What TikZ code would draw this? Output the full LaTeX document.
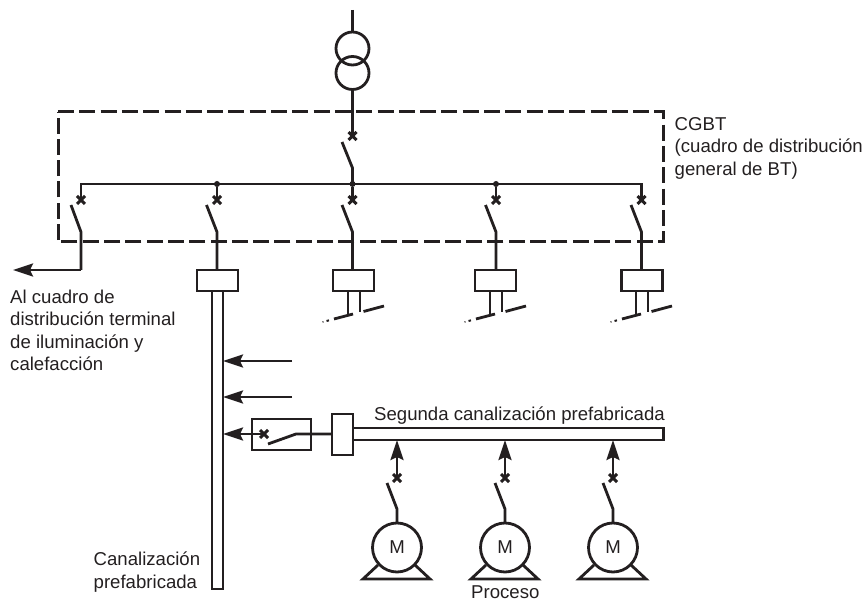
\documentclass[tikz,border=0pt]{standalone}
\usepackage{fontspec}
\setmainfont{Liberation Sans}
\usepackage{xcolor}
\usetikzlibrary{shapes.misc, shapes.geometric, arrows.meta, positioning}
\definecolor{inkcolor}{RGB}{35, 31, 32}
\tikzstyle{wire} = [line width=2.8pt, draw=inkcolor, line join=miter]
\tikzstyle{arrow} = [wire, -{Stealth[length=20pt, width=13pt, inset=3pt]}]
\tikzstyle{panel} = [line width=3pt, draw=inkcolor, dash pattern=on 16pt off 5.3pt]
\tikzstyle{breaker} = [cross out, draw=inkcolor, line width=3pt, minimum size=8pt, inner sep=0pt, outer sep=0pt]
\tikzstyle{junction} = [circle, fill=inkcolor, minimum size=6pt, inner sep=0pt]
\tikzstyle{tapbox} = [rectangle, draw=inkcolor, line width=2.8pt, fill=white, minimum width=41pt, minimum height=21pt, inner sep=0pt, outer sep=0pt]
\tikzstyle{bar} = [rectangle, draw=inkcolor, line width=2.8pt, inner sep=0pt, outer sep=0pt]
\tikzstyle{motor} = [circle, draw=inkcolor, line width=2.8pt, minimum size=49pt, inner sep=0pt, outer sep=0pt, text=inkcolor]
\tikzstyle{coil} = [circle, draw=inkcolor, line width=2.8pt, minimum size=33pt, inner sep=0pt, outer sep=0pt]
\tikzstyle{label} = [text=inkcolor, font=\fontsize{18.6}{22.5}\selectfont, align=left, inner sep=0pt]

\begin{document}
\begin{tikzpicture}[x=1pt, y=-1pt]
\useasboundingbox (0,0) rectangle (864,601);

% Transformateur
\coordinate (feed) at (352.5,10);
\node (tfa) [coil] at (352.5,48.5) {};
\node (tfb) [coil] at (352.5,73) {};
\draw [wire] (feed) -- (tfa.north);

% Cadre CGBT
\node (cgbt) [label, anchor=base west] at (674.5,175.5) {CGBT\\(cuadro de distribución\\general de BT)};
\coordinate (pnw) at (58,112);
\coordinate (pne) at (663,112);
\coordinate (pse) at (663,242);
\coordinate (psw) at (58,242);
\draw [panel] (pnw) -- (pne) -- (pse) -- (psw) -- cycle;

% Interrupteur général
\node (qmain) [breaker] at (352.5,136) {};
\coordinate (bmain) at (342,142);
\coordinate (pmain) at (352.5,168);
\draw [wire] (tfb.south) -- (qmain.center);
\draw [wire] (bmain) -- (pmain) -- (352.5,184);

% Jeu de barres
\coordinate (busl) at (81,184);
\coordinate (busr) at (641.5,184);
\node (jb) [junction] at (217,184) {};
\node (jc) [junction] at (352.5,184) {};
\node (jd) [junction] at (496,184) {};
\node (qa) [breaker] at (81,200) {};
\node (qb) [breaker] at (217,200) {};
\node (qc) [breaker] at (352.5,200) {};
\node (qd) [breaker] at (496,200) {};
\node (qe) [breaker] at (641.5,200) {};
\draw [wire] (qa.center) -- (busl) -- (busr) -- (qe.center);
\draw [wire] (jb) -- (qb.center);
\draw [wire] (jc) -- (qc.center);
\draw [wire] (jd) -- (qd.center);

% Boîtes de dérivation
\node (boxb) [tapbox] at (217.5,280.5) {};
\node (boxc) [tapbox] at (353.5,280.5) {};
\node (boxd) [tapbox] at (495.5,280.5) {};
\node (boxe) [tapbox] at (642,280.5) {};

% Départs
\coordinate (ba) at (71,205);
\coordinate (pa) at (81,232);
\coordinate (ta) at (81,270);
\coordinate (tip) at (13,270);
\draw [wire] (ba) -- (pa) -- (ta);
\draw [arrow] (ta) -- (tip);
\coordinate (bb) at (206.5,205);
\coordinate (pb) at (217,232);
\draw [wire] (bb) -- (pb) -- (boxb.north -| pb);
\coordinate (bc) at (342,205);
\coordinate (pc) at (352.5,232);
\draw [wire] (bc) -- (pc) -- (boxc.north -| pc);
\coordinate (bd) at (485.5,205);
\coordinate (pd) at (496,232);
\draw [wire] (bd) -- (pd) -- (boxd.north -| pd);
\coordinate (be) at (631,205);
\coordinate (pe) at (641.5,232);
\draw [wire] (be) -- (pe) -- (boxe.north -| pe);

% Sorties à contacts
\coordinate (sc1) at (348,314.5);
\coordinate (sc2) at (360,312);
\draw [wire] (boxc.south -| sc1) -- (sc1);
\draw [wire] (boxc.south -| sc2) -- (sc2);
\draw [wire] (334,319) -- (353,314);
\draw [wire] (363.5,311.5) -- (384,306);
\draw [wire, line width=2pt] (326.5,321) -- (329,320.4);
\draw [wire, line width=1.4pt] (322.5,322) -- (323.5,321.8);
\coordinate (sd1) at (490,314.5);
\coordinate (sd2) at (502,312);
\draw [wire] (boxd.south -| sd1) -- (sd1);
\draw [wire] (boxd.south -| sd2) -- (sd2);
\draw [wire] (476,319) -- (495,314);
\draw [wire] (505.5,311.5) -- (526,306);
\draw [wire, line width=2pt] (468.5,321) -- (471,320.4);
\draw [wire, line width=1.4pt] (464.5,322) -- (465.5,321.8);
\coordinate (se1) at (636,314.5);
\coordinate (se2) at (648,312);
\draw [wire] (boxe.south -| se1) -- (se1);
\draw [wire] (boxe.south -| se2) -- (se2);
\draw [wire] (622,319) -- (641,314);
\draw [wire] (651.5,311.5) -- (672,306);
\draw [wire, line width=2pt] (614.5,321) -- (617,320.4);
\draw [wire, line width=1.4pt] (610.5,322) -- (611.5,321.8);

% Canalisation verticale
\node (mainbar) [bar, minimum width=11pt, minimum height=298pt] at (217.5,440) {};
\node (al) [label, anchor=base west] at (10,370.5) {Al cuadro de\\distribución terminal\\de iluminación y\\calefacción};
\node (canal) [label, anchor=base west] at (93.5,588) {Canalización\\prefabricada};
\coordinate (ea) at (292,361);
\coordinate (eb) at (292,397);
\draw [arrow] (ea) -- (ea -| mainbar.east);
\draw [arrow] (eb) -- (eb -| mainbar.east);

% Seconde canalisation
\node (swbox) [bar, minimum width=59pt, minimum height=31pt] at (281.5,434.5) {};
\node (link) [bar, minimum width=21pt, minimum height=41pt] at (342.5,434.5) {};
\node (secbar) [bar, minimum width=310.5pt, minimum height=12pt, anchor=west] at (353,434) {};
\node (seg) [label, anchor=base west] at (374,420.5) {Segunda canalización prefabricada};
\node (qs) [breaker] at (264,434) {};
\coordinate (bs) at (268,444);
\coordinate (ps) at (296,434);
\draw [arrow] (qs.center) -- (qs.center -| mainbar.east);
\draw [wire] (bs) -- (ps) -- (link.west |- ps);

% Moteurs
\node (ma) [motor, font=\fontsize{18.6}{22}\selectfont] at (397,547.5) {M};
\node (mb) [motor, font=\fontsize{18.6}{22}\selectfont] at (505,547.5) {M};
\node (mc) [motor, font=\fontsize{18.6}{22}\selectfont] at (613,547.5) {M};
\node (qma) [breaker] at (397,478) {};
\node (qmb) [breaker] at (505,478) {};
\node (qmc) [breaker] at (613,478) {};
\draw [arrow] (qma.center) -- (qma.center |- secbar.south);
\draw [arrow] (qmb.center) -- (qmb.center |- secbar.south);
\draw [arrow] (qmc.center) -- (qmc.center |- secbar.south);
\coordinate (bma) at (387,483);
\coordinate (pma) at (397,509);
\draw [wire] (bma) -- (pma) -- (ma.north);
\coordinate (bmb) at (495,483);
\coordinate (pmb) at (505,509);
\draw [wire] (bmb) -- (pmb) -- (mb.north);
\coordinate (bmc) at (603,483);
\coordinate (pmc) at (613,509);
\draw [wire] (bmc) -- (pmc) -- (mc.north);
\draw [wire] (378,565) -- (363,579) -- (430,579) -- (415,565);
\draw [wire] (486,565) -- (471,579) -- (538,579) -- (523,565);
\draw [wire] (594,565) -- (579,579) -- (646,579) -- (631,565);
\node (proc) [label, anchor=base west] at (471,598) {Proceso};

\end{tikzpicture}
\end{document}
